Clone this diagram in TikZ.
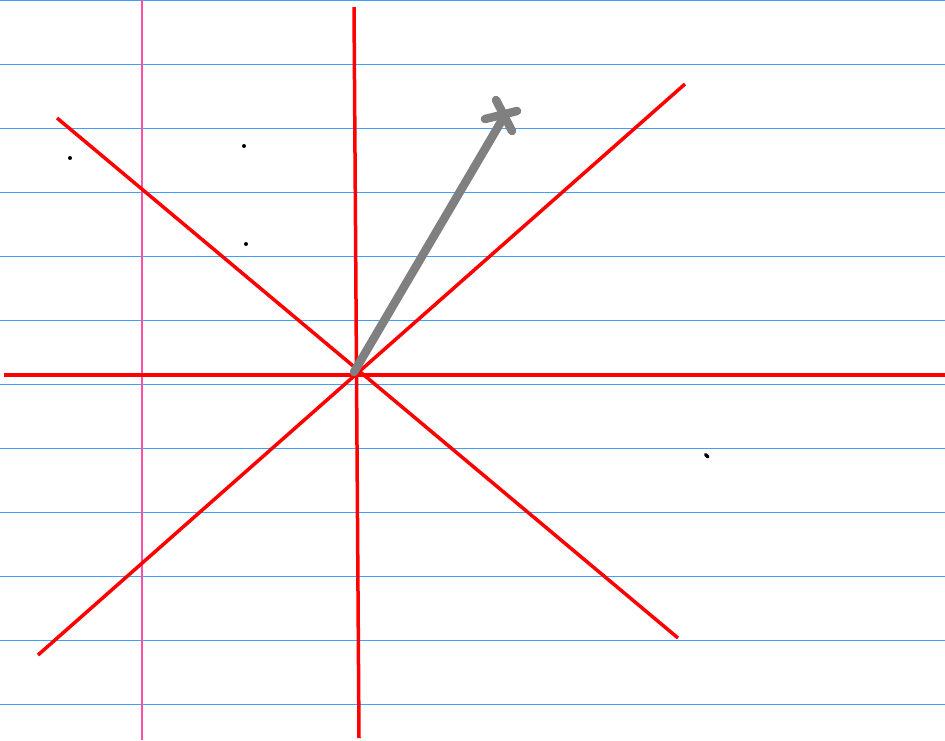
\documentclass[tikz,border=0pt]{standalone}
\begin{document}
\begin{tikzpicture}[x=1pt,y=-1pt,
  rule/.style={draw={rgb,255:red,64;green,160;blue,255},line width=1.4pt},
  margin/.style={draw={rgb,255:red,255;green,80;blue,170},line width=2pt},
  axis/.style={draw=red,line width=3.5pt},
  pen/.style={draw={rgb,255:red,128;green,128;blue,128},line width=8.5pt,line cap=round},
  speck/.style={fill=black}]
\useasboundingbox (0,0) rectangle (945,740);
\fill[white] (0,0) rectangle (945,740);
\foreach \y in {0,64,128,192,256,320,384,448,512,576,640,704}
  \draw[rule] (0,\y+0.5) -- (945,\y+0.5);
\draw[margin] (142,0) -- (142,740);
\draw[axis] (4,375) -- (945,375);
\draw[axis] (354,7) -- (359,738);
\draw[axis] (57,118) -- (678,638);
\draw[axis] (38,655) -- (685,84);
\draw[pen] (354,372) -- (505,115);
\draw[pen] (496,100) -- (512,131);
\draw[pen] (485,119) -- (517,111);
\fill[speck] (70,158) circle (2);
\fill[speck] (244,146) circle (2);
\fill[speck] (246,244) circle (2);
\draw[line width=3.2pt,line cap=round] (705.5,454.5) -- (708,457);
\end{tikzpicture}
\end{document}
